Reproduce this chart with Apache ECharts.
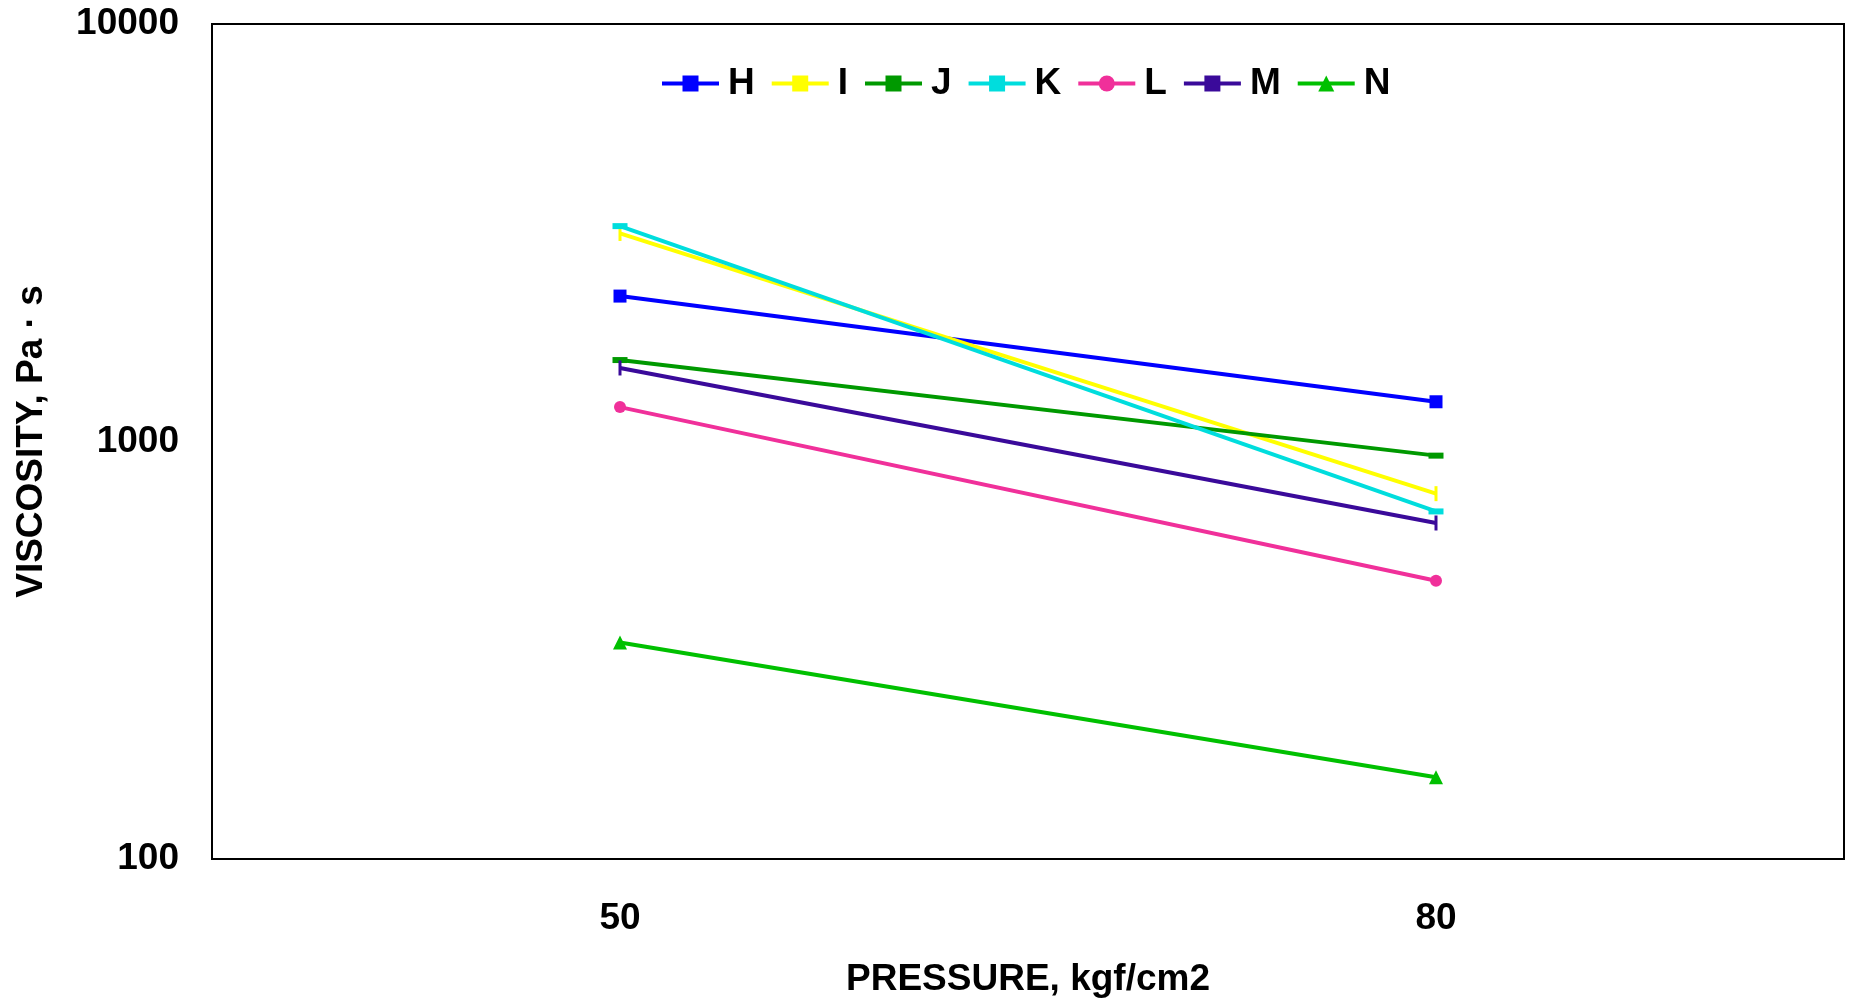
<!DOCTYPE html>
<html>
<head>
<meta charset="utf-8">
<script src="https://cdn.jsdelivr.net/npm/echarts@6/dist/echarts.min.js"></script>
<style>html,body{margin:0;padding:0;background:#fff;}#c{width:1851px;height:1005px;}</style>
</head>
<body>
<div id="c"></div>
<script>
const categories = ['50', '80'];
const H = [2230, 1245];
const I = [3150, 750];
const J = [1567, 925];
const K = [3280, 680];
const L = [1209, 464];
const M = [1500, 638];
const N = [330, 157];

const FONT = '"Liberation Sans", Arial, sans-serif';
function mk(name, data, color, symbol, size) {
  return {
    name: name, type: 'line', data: data,
    symbol: symbol, symbolSize: size, showSymbol: true,
    lineStyle: { color: color, width: 4 },
    itemStyle: { color: color },
    emphasis: { disabled: true },
    animation: false
  };
}
const chart = echarts.init(document.getElementById('c'));
chart.setOption({
  backgroundColor: '#fff',
  animation: false,
  legend: {
    top: 60, left: 655,
    itemWidth: 57, itemHeight: 20, itemGap: 15,
    lineStyle: { width: 4 },
    textStyle: { fontFamily: FONT, fontWeight: 'bold', fontSize: 37, color: '#000', padding: [0, 0, 0, 4] },
    data: ['H','I','J','K','L','M','N']
  },
  grid: { left: 212, right: 7, top: 24, bottom: 146, show: true, borderColor: '#000', borderWidth: 2, containLabel: false, outerBoundsMode: 'none' },
  xAxis: {
    type: 'category', data: categories, boundaryGap: true,
    name: 'PRESSURE, kgf/cm2', nameLocation: 'middle', nameGap: 102,
    nameTextStyle: { fontFamily: FONT, fontWeight: 'bold', fontSize: 37, color: '#000' },
    axisLine: { lineStyle: { color: '#000', width: 2 } },
    axisTick: { show: false },
    axisLabel: { fontFamily: FONT, fontWeight: 'bold', fontSize: 37, color: '#000', margin: 41 },
    splitLine: { show: false }
  },
  yAxis: {
    type: 'log', logBase: 10, min: 100, max: 10000,
    name: 'VISCOSITY, Pa · s', nameLocation: 'middle', nameGap: 162, nameRotate: 90,
    nameTextStyle: { fontFamily: FONT, fontWeight: 'bold', fontSize: 37, color: '#000' },
    axisLine: { show: true, lineStyle: { color: '#000', width: 2 } },
    axisTick: { show: false },
    axisLabel: { fontFamily: FONT, fontWeight: 'bold', fontSize: 37, color: '#000', margin: 33,
      formatter: function (v) { return String(Math.round(v)); } },
    splitLine: { show: false },
    minorSplitLine: { show: false }
  },
  series: [
    mk('H', H, '#0000ff', 'rect', 13),
    mk('I', I, '#ffff00', 'rect', [3, 15]),
    mk('J', J, '#009900', 'rect', [15, 6]),
    mk('K', K, '#00dddd', 'rect', [15, 6]),
    mk('L', L, '#f0309a', 'circle', 12),
    mk('M', M, '#3a0a9a', 'rect', [3, 15]),
    mk('N', N, '#00c000', 'triangle', 14)
  ]
});
</script>
</body>
</html>
